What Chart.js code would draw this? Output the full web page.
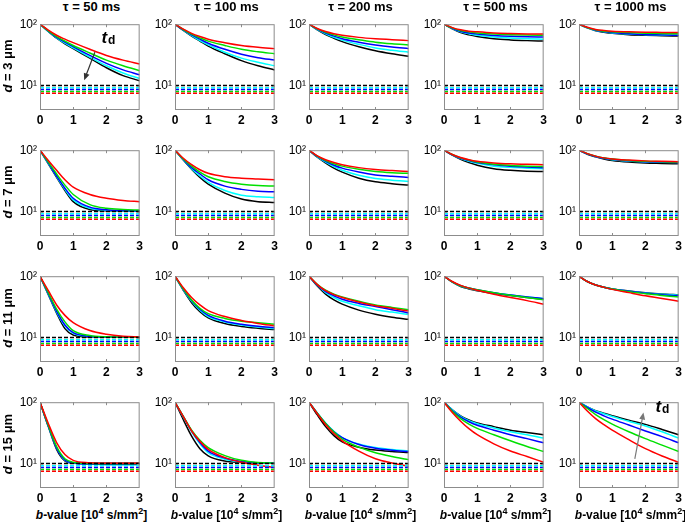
<!DOCTYPE html>
<html>
<head>
<meta charset="utf-8">
<script src="https://cdn.jsdelivr.net/npm/chart.js@4/dist/chart.umd.min.js"></script>
<style>
  body { margin: 0; width: 685px; height: 524px; position: relative; overflow: hidden; background: #fff;
         font-family: "Liberation Sans", Arial, sans-serif; }
  canvas { position: absolute; }
  .col-title { position: absolute; top: 0; width: 120px; text-align: center; font-weight: bold; font-size: 13px; line-height: 14px; }
  .row-title { position: absolute; width: 90px; text-align: center; font-weight: bold; font-size: 13px; line-height: 14px;
               transform: rotate(-90deg); }
  .x-title { position: absolute; top: 508px; width: 134px; text-align: center; font-weight: bold; font-size: 12px; line-height: 14px; }
  sup { font-size: 9px; line-height: 0; }
</style>
</head>
<body>
<script>
/* ── DATA ───────────────────────────────────────── */
const bValues = [0, 0.25, 0.5, 0.75, 1, 1.5, 2, 2.5, 3];
const tauLabels = ["τ = 50 ms", "τ = 100 ms", "τ = 200 ms", "τ = 500 ms", "τ = 1000 ms"];
const diameters = [3, 7, 11, 15];
// series order: red, green, blue, cyan, black (t_d increasing)
const seriesColors = ["#ff0000", "#00e000", "#0000ff", "#00ffff", "#000000"];
const floorLevels = [7.5, 8.0, 8.6, 9.2, 10];

// d = 3 µm
const d3_tau50 = [
  [100, 80, 66, 57, 50, 39, 31, 26, 22.5],
  [100, 78, 63, 53, 45, 34, 26, 21, 17.5],
  [100, 77, 61, 51, 43, 31, 23, 18, 15],
  [100, 76, 60, 49, 41, 29, 21, 16, 13],
  [100, 76, 59, 48, 40, 28, 19.5, 14.5, 12],
];
const d3_tau100 = [
  [100, 83, 71, 63, 57, 50, 45, 42, 40],
  [100, 82, 69, 60, 53, 45, 39, 35.5, 33],
  [100, 81, 67, 57, 49, 39, 32.5, 28.5, 26],
  [100, 80, 65, 54, 46, 35, 28, 24, 21],
  [100, 79, 64, 53, 44, 33, 25.5, 21, 18],
];
const d3_tau200 = [
  [100, 85, 76, 70, 66, 61, 58, 56, 54],
  [100, 84, 74, 67, 62, 56, 51, 48, 46],
  [100, 83, 72, 64, 58, 51, 46, 42.5, 40],
  [100, 82, 70, 61, 55, 47, 41, 37.5, 35],
  [100, 81, 68, 59, 52, 43, 37, 33, 30],
];
const d3_tau500 = [
  [100, 88, 81, 77, 75, 72, 70.5, 69.5, 69],
  [100, 87, 79, 75, 72, 69, 67.5, 66.5, 66],
  [100, 86, 77, 72, 69, 65.5, 63.5, 62.5, 62],
  [100, 85, 75, 70, 66, 62, 59.5, 58, 57],
  [100, 84, 73, 67, 63, 58, 55.5, 54, 53],
];
const d3_tau1000 = [
  [100, 89, 82, 79, 77, 75, 74, 73.5, 73],
  [100, 88, 81, 77, 75, 73, 71.5, 70.5, 70],
  [100, 88, 80, 76, 73, 70, 68, 67, 66],
  [100, 87, 79, 75, 72, 69, 67.5, 66.5, 66],
  [100, 87, 78, 74, 71, 67.5, 66, 65, 64],
];

// d = 7 µm
const d7_tau50 = [
  [100, 68, 47, 33, 25, 19, 16.5, 15.2, 14.5],
  [100, 64, 41, 27, 19, 13, 11.3, 10.8, 10.6],
  [100, 62, 38, 24, 16.5, 11.8, 10.7, 10.4, 10.3],
  [100, 61, 37, 23, 15.5, 11.3, 10.5, 10.3, 10.2],
  [100, 60, 36, 22, 14.5, 10.8, 10.3, 10.2, 10.1],
];
const d7_tau100 = [
  [100, 74, 58, 48, 42, 37, 35, 34, 33],
  [100, 72, 55, 44, 37, 31, 28, 26.5, 26],
  [100, 71, 52, 41, 33, 26, 23, 21.5, 21],
  [100, 70, 50, 38, 30, 22, 18.5, 17.5, 17],
  [100, 69, 49, 36, 28, 20, 16, 14.5, 14],
];
const d7_tau200 = [
  [100, 81, 70, 63, 58, 52, 48.5, 46.5, 45],
  [100, 80, 68, 60, 55, 49, 45, 43, 42],
  [100, 79, 66, 57, 51, 44, 39.5, 37.5, 36],
  [100, 78, 64, 54, 47, 39, 34.5, 32.5, 31],
  [100, 77, 62, 51, 44, 35, 30.5, 28.5, 27],
];
const d7_tau500 = [
  [100, 85, 76, 70, 66, 62, 60, 59, 58],
  [100, 85, 75, 69, 64, 59, 56.5, 55, 54],
  [100, 84, 74, 68, 63, 58, 55, 53, 52],
  [100, 84, 73, 66, 61, 55, 52.5, 51, 50],
  [100, 83, 71, 63, 57, 50, 47, 45.5, 45],
];
const d7_tau1000 = [
  [100, 88, 80, 75, 72, 69, 67, 66, 65],
  [100, 88, 80, 75, 72, 68, 66, 65, 64],
  [100, 87, 79, 74, 71, 67, 65, 64, 63],
  [100, 87, 79, 74, 70, 66.5, 64.5, 63.5, 63],
  [100, 86, 78, 72, 68, 64, 62, 61, 60],
];

// d = 11 µm
const d11_tau50 = [
  [100, 58, 34, 23, 17.5, 13, 11.3, 10.5, 10.2],
  [100, 54, 29, 18, 13, 10.8, 10.3, 10.2, 10.1],
  [100, 52, 27, 16, 12, 10.5, 10.2, 10.1, 10.1],
  [100, 51, 26, 15.5, 11.7, 10.4, 10.2, 10.1, 10.1],
  [100, 50, 25, 14, 11, 10.2, 10.1, 10.1, 10.1],
];
const d11_tau100 = [
  [100, 65, 45, 34, 27.5, 22, 19, 17, 15.5],
  [100, 62, 41, 30, 24.5, 20.5, 18.5, 17.5, 16.5],
  [100, 61, 40, 29, 23, 18.5, 16.5, 15.3, 14.5],
  [100, 60, 39, 28, 22, 18, 16, 14.8, 14],
  [100, 59, 37, 26.5, 21, 17, 15.2, 14.2, 13.5],
];
const d11_tau200 = [
  [100, 73, 58, 50, 45, 38, 33, 30, 27],
  [100, 74, 59, 51, 46, 39, 34, 31, 28.5],
  [100, 72, 56, 48, 42, 36, 32, 28.5, 25.2],
  [100, 71, 54, 45, 39, 33, 28.5, 26, 23.8],
  [100, 69, 51, 41, 35, 28, 24, 21.5, 19.8],
];
const d11_tau500 = [
  [100, 82, 71, 64, 59, 51, 45, 40, 35],
  [100, 81, 70, 64, 60, 54, 49, 45, 41.5],
  [100, 81, 70, 64, 60, 54, 49.5, 46, 43],
  [100, 80, 69, 63, 59, 53.5, 49.5, 46, 43.5],
  [100, 80, 68, 62, 58, 52.5, 48.5, 45, 42],
];
const d11_tau1000 = [
  [100, 82, 72, 66, 61, 54, 48, 43.5, 39],
  [100, 82, 72, 66, 62, 56, 52, 48.5, 46],
  [100, 82, 72, 66, 62, 57, 53, 50, 48],
  [100, 82, 72, 66, 62, 57, 53.5, 51, 49],
  [100, 82, 72, 66, 62, 57.5, 54, 51.5, 50],
];

// d = 15 µm
const d15_tau50 = [
  [100, 45, 22, 14, 11.3, 10.3, 10.1, 10.1, 10.1],
  [100, 42, 19, 12, 10.5, 10, 9.9, 9.9, 9.9],
  [100, 41, 18, 11.5, 10.2, 9.8, 9.7, 9.7, 9.7],
  [100, 41, 18, 11.3, 10.1, 9.8, 9.7, 9.7, 9.7],
  [100, 40, 17, 11, 10.1, 10.1, 10.1, 10.1, 10.1],
];
const d15_tau100 = [
  [100, 58, 34, 23, 17, 12.5, 10.5, 9.4, 8.6],
  [100, 59, 35, 24, 18.2, 13.5, 11.3, 10.4, 10.1],
  [100, 58, 34, 22, 16, 12.3, 10.8, 10.3, 10.1],
  [100, 57, 33, 21, 15, 11.8, 10.6, 10.2, 10.1],
  [100, 52, 28, 17.5, 13.4, 11, 10.4, 10.2, 10.2],
];
const d15_tau200 = [
  [100, 65, 43, 31, 23.5, 16, 12, 10.2, 9],
  [100, 66, 45, 32.5, 25, 18.5, 15, 13, 11.6],
  [100, 66, 45, 33, 26.5, 20.5, 17.8, 16.5, 15.7],
  [100, 67, 46, 33.5, 26.5, 20.8, 18.2, 16.9, 16],
  [100, 62, 40, 28.5, 22.5, 18.5, 16.6, 15.7, 15.1],
];
const d15_tau500 = [
  [100, 68, 49, 37, 29.5, 21, 16, 13, 10.5],
  [100, 71, 54, 44, 37.5, 29.5, 23.5, 19, 15.7],
  [100, 73, 57, 48, 42, 35, 29.5, 25.5, 21.8],
  [100, 75, 59, 50, 44.5, 38, 33, 29.5, 26],
  [100, 75, 60, 51.5, 46, 40, 35, 32, 29.5],
];
const d15_tau1000 = [
  [100, 72, 54, 43, 35, 24.5, 17.5, 13.3, 10.5],
  [100, 79, 63, 52, 44, 33, 25.5, 20, 15.7],
  [100, 82, 69, 60, 53, 42.5, 34, 27.5, 21.8],
  [100, 84, 72, 65, 58.5, 49, 41, 33, 26],
  [100, 84, 73, 66, 60, 51, 43.5, 36, 29.5],
];

const panelRows = [
  [d3_tau50, d3_tau100, d3_tau200, d3_tau500, d3_tau1000],
  [d7_tau50, d7_tau100, d7_tau200, d7_tau500, d7_tau1000],
  [d11_tau50, d11_tau100, d11_tau200, d11_tau500, d11_tau1000],
  [d15_tau50, d15_tau100, d15_tau200, d15_tau500, d15_tau1000],
];

/* ── LAYOUT ─────────────────────────────────────── */
const PLOT_LEFT = [40, 175, 309, 444, 579];
const PLOT_TOP = [22, 148, 274, 400];
const PLOT_W = 103;
const PLOT_H = 88;
const AXIS_W = 30;
const AXIS_H = 18;
const PAD_TOP = 8;
const PAD_RIGHT = 3;

/* ── PLUGINS ────────────────────────────────────── */
// matlab-like box with inward ticks
const boxPlugin = {
  id: "box",
  afterDatasetsDraw(chart) {
    const { ctx, chartArea: a, scales } = chart;
    ctx.save();
    ctx.strokeStyle = "#8c8c8c";
    ctx.lineWidth = 1;
    ctx.strokeRect(a.left + 0.5, a.top + 0.5, a.width - 1, a.height - 1);
    ctx.beginPath();
    [1, 2].forEach((v) => {
      const px = Math.round(scales.x.getPixelForValue(v)) + 0.5;
      ctx.moveTo(px, a.bottom); ctx.lineTo(px, a.bottom - 3);
      ctx.moveTo(px, a.top); ctx.lineTo(px, a.top + 3);
    });
    const py = Math.round(scales.y.getPixelForValue(10)) + 0.5;
    ctx.moveTo(a.left, py); ctx.lineTo(a.left + 3, py);
    ctx.moveTo(a.right, py); ctx.lineTo(a.right - 3, py);
    ctx.stroke();
    ctx.restore();
  },
};

// "t_d" arrow annotation
const arrowPlugin = {
  id: "tdArrow",
  afterDatasetsDraw(chart, args, opts) {
    if (!opts || !opts.from) return;
    const { ctx, scales } = chart;
    const x0 = scales.x.getPixelForValue(opts.from[0]);
    const y0 = scales.y.getPixelForValue(opts.from[1]);
    const x1 = scales.x.getPixelForValue(opts.to[0]);
    const y1 = scales.y.getPixelForValue(opts.to[1]);
    const ang = Math.atan2(y1 - y0, x1 - x0);
    ctx.save();
    ctx.strokeStyle = opts.color;
    ctx.fillStyle = opts.color;
    ctx.lineWidth = 1.2;
    ctx.beginPath();
    ctx.moveTo(x0, y0);
    ctx.lineTo(x1 - 4 * Math.cos(ang), y1 - 4 * Math.sin(ang));
    ctx.stroke();
    ctx.beginPath();
    ctx.moveTo(x1, y1);
    ctx.lineTo(x1 - 7 * Math.cos(ang) + 3 * Math.sin(ang), y1 - 7 * Math.sin(ang) - 3 * Math.cos(ang));
    ctx.lineTo(x1 - 7 * Math.cos(ang) - 3 * Math.sin(ang), y1 - 7 * Math.sin(ang) + 3 * Math.cos(ang));
    ctx.closePath();
    ctx.fill();
    // label
    const lx = scales.x.getPixelForValue(opts.label[0]);
    const ly = scales.y.getPixelForValue(opts.label[1]);
    ctx.fillStyle = "#000";
    ctx.textBaseline = "alphabetic";
    ctx.font = 'italic bold 17px "Liberation Sans", Arial';
    ctx.fillText("t", lx, ly);
    const tw = ctx.measureText("t").width;
    ctx.font = 'bold 12px "Liberation Sans", Arial';
    ctx.fillText("d", lx + tw + 1, ly + 1);
    ctx.restore();
  },
};

const arrows = {
  "0-0": { from: [1.65, 35], to: [1.33, 12.2], label: [1.85, 50], color: "#333" },
  "3-4": { from: [1.68, 11.9], to: [1.94, 68], label: [2.3, 68], color: "#777" },
};

/* ── BUILD PANELS ───────────────────────────────── */
function makePanel(row, col, curves) {
  const canvas = document.createElement("canvas");
  canvas.width = AXIS_W + PLOT_W + PAD_RIGHT;
  canvas.height = PAD_TOP + PLOT_H + AXIS_H;
  canvas.style.left = PLOT_LEFT[col] - AXIS_W + "px";
  canvas.style.top = PLOT_TOP[row] - PAD_TOP + "px";
  document.body.appendChild(canvas);

  const datasets = [];
  floorLevels.forEach((lvl, i) => {
    datasets.push({
      data: [{ x: 0, y: lvl }, { x: 3, y: lvl }],
      borderColor: seriesColors[i],
      borderWidth: 1.5,
      borderDash: [4, 2],
      pointRadius: 0,
    });
  });
  curves.forEach((vals, i) => {
    datasets.push({
      data: bValues.map((b, j) => ({ x: b, y: vals[j] })),
      borderColor: seriesColors[i],
      borderWidth: 1.5,
      pointRadius: 0,
      cubicInterpolationMode: "monotone",
    });
  });

  new Chart(canvas, {
    type: "line",
    data: { datasets },
    plugins: [boxPlugin, arrowPlugin],
    options: {
      responsive: false,
      animation: false,
      layout: { padding: { top: PAD_TOP, right: PAD_RIGHT, left: 0, bottom: 0 } },
      plugins: {
        legend: { display: false },
        tooltip: { enabled: false },
        tdArrow: arrows[row + "-" + col] || {},
      },
      scales: {
        x: {
          type: "linear",
          min: 0,
          max: 3,
          grid: { display: false, drawTicks: false },
          border: { display: false },
          ticks: {
            stepSize: 1,
            padding: 3,
            maxRotation: 0,
            color: "#000",
            font: { family: "Liberation Sans", size: 12, weight: "bold" },
          },
          afterFit: (s) => { s.height = AXIS_H; },
        },
        y: {
          type: "logarithmic",
          min: 4,
          max: 100,
          grid: { display: false, drawTicks: false },
          border: { display: false },
          afterBuildTicks: (s) => { s.ticks = [{ value: 10 }, { value: 100 }]; },
          ticks: {
            padding: 3,
            color: "#000",
            font: { family: "Liberation Sans", size: 12 },
            callback: (v) => (v === 100 ? "10²" : v === 10 ? "10¹" : ""),
          },
          afterFit: (s) => { s.width = AXIS_W; },
        },
      },
    },
  });
}

panelRows.forEach((rowPanels, r) => {
  rowPanels.forEach((curves, c) => makePanel(r, c, curves));
});

/* ── TEXT LABELS ────────────────────────────────── */
tauLabels.forEach((t, c) => {
  const div = document.createElement("div");
  div.className = "col-title";
  div.style.left = PLOT_LEFT[c] + PLOT_W / 2 - 60 + "px";
  div.textContent = t;
  document.body.appendChild(div);

  const xt = document.createElement("div");
  xt.className = "x-title";
  xt.style.left = PLOT_LEFT[c] + PLOT_W / 2 - 67 + "px";
  xt.innerHTML = "<i>b</i>-value [10<sup>4</sup> s/mm<sup>2</sup>]";
  document.body.appendChild(xt);
});

diameters.forEach((d, r) => {
  const div = document.createElement("div");
  div.className = "row-title";
  div.style.left = 8 - 45 + "px";
  div.style.top = PLOT_TOP[r] + PLOT_H / 2 - 7 + "px";
  div.innerHTML = "<i>d</i> = " + d + " μm";
  document.body.appendChild(div);
});
</script>
</body>
</html>
